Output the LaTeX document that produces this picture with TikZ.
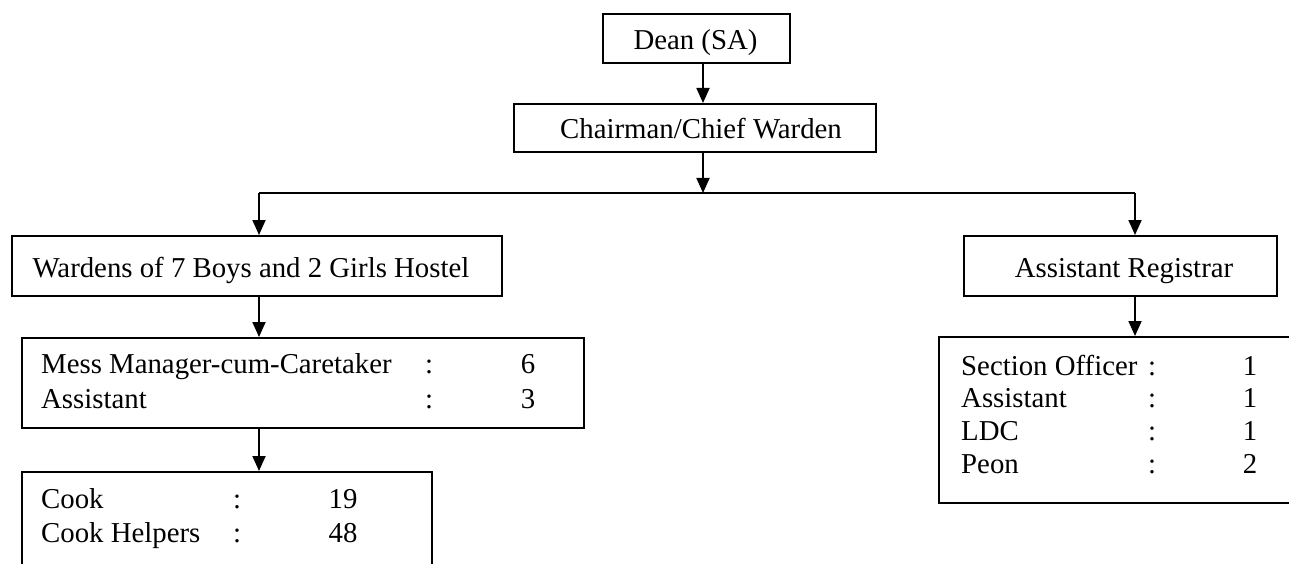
\documentclass[tikz,border=0pt]{standalone}
\usepackage{fontspec}
\setmainfont{Liberation Serif}
\usetikzlibrary{arrows.meta}
\tikzset{
  box/.style={draw, line width=1.8pt, inner sep=0pt, anchor=north west},
  lbl/.style={inner sep=0pt, anchor=base west, font=\fontsize{28.8}{34}\selectfont},
  num/.style={inner sep=0pt, anchor=base, font=\fontsize{28.8}{34}\selectfont},
  arr/.style={line width=1.8pt, -{Triangle[length=15pt,width=13pt]}},
  ln/.style={line width=1.8pt}
}
\newcommand{\bx}[5]{\node[box, minimum width=#4pt, minimum height=#5pt] (#1) at (#2,#3) {};}
\begin{document}
\begin{tikzpicture}[x=1pt,y=-1pt]
\clip (0,0) rectangle (1289,564);
% boxes
\bx{dean}{602}{13}{187}{49}
\bx{chair}{513}{103}{362}{48}
\bx{ward}{11}{235}{490}{60}
\bx{mess}{21}{337}{562}{90}
\bx{cook}{21}{471}{410}{140}
\bx{ar}{963}{235}{313}{60}
\bx{staff}{938}{336}{400}{166}
% single-line texts
\node[num] (deant) at (695.5,50) {Dean (SA)};
\node[num] (chairt) at (701,139) {Chairman/Chief Warden};
\node[num] (wardt) at (251,277) {Wardens of 7 Boys and 2 Girls Hostel};
\node[num] (art) at (1124,277) {Assistant Registrar};
% mess
\node[lbl] (m1) at (41,373) {Mess Manager-cum-Caretaker};
\node[lbl] (m2) at (41,408) {Assistant};
\node[num] (m1c) at (429,373) {:};
\node[num] (m2c) at (429,408) {:};
\node[num] (m1n) at (528,373) {6};
\node[num] (m2n) at (528,408) {3};
% cook
\node[lbl] (c1) at (41,508) {Cook};
\node[lbl] (c2) at (41,542) {Cook Helpers};
\node[num] (c1c) at (237,508) {:};
\node[num] (c2c) at (237,542) {:};
\node[num] (c1n) at (343,508) {19};
\node[num] (c2n) at (343,542) {48};
% staff
\node[lbl] (s1) at (961,375) {Section Officer};
\node[lbl] (s2) at (961,407) {Assistant};
\node[lbl] (s3) at (961,440) {LDC};
\node[lbl] (s4) at (961,473) {Peon};
\node[num] (s1c) at (1152,375) {:};
\node[num] (s2c) at (1152,407) {:};
\node[num] (s3c) at (1152,440) {:};
\node[num] (s4c) at (1152,473) {:};
\node[num] (s1n) at (1250,375) {1};
\node[num] (s2n) at (1250,407) {1};
\node[num] (s3n) at (1250,440) {1};
\node[num] (s4n) at (1250,473) {2};
% connectors
\coordinate (j) at (703,193);
\coordinate (jl) at (259,193);
\coordinate (jr) at (1135,193);
\draw[arr] (dean.south -| j) -- (chair.north -| j);
\draw[arr] (chair.south -| j) -- (j);
\draw[ln] (jl) -- (jr);
\draw[arr] (jl) -- (ward.north -| jl);
\draw[arr] (jr) -- (ar.north -| jr);
\draw[arr] (ward.south -| jl) -- (mess.north -| jl);
\draw[arr] (mess.south -| jl) -- (cook.north -| jl);
\draw[arr] (ar.south -| jr) -- (staff.north -| jr);
\end{tikzpicture}
\end{document}
